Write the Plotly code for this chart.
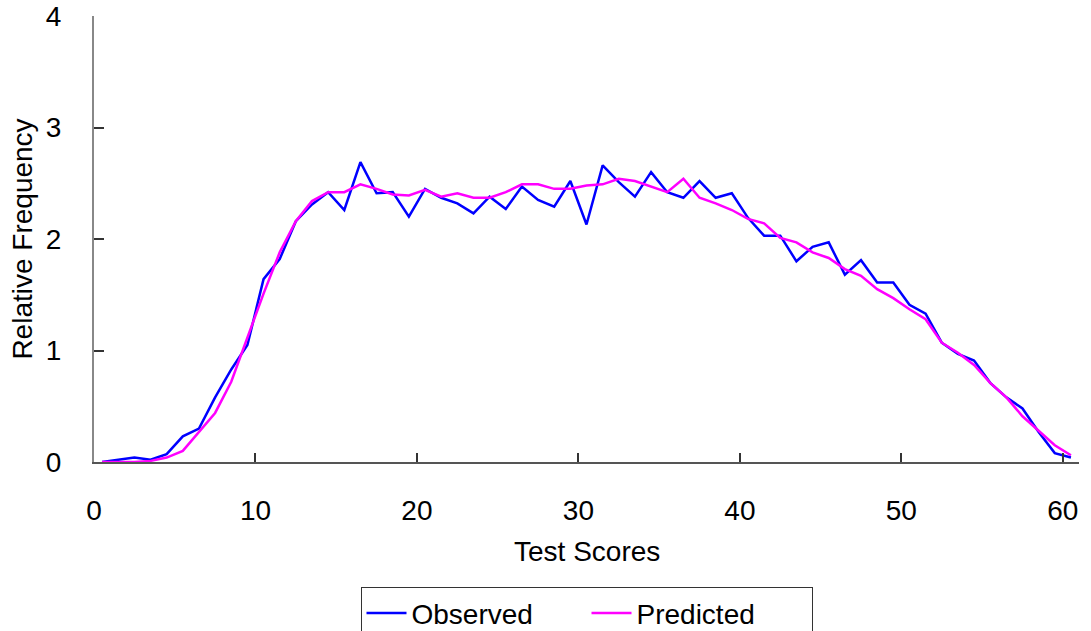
import plotly.graph_objects as go

scores = list(range(61))
observed = [0.00, 0.02, 0.04, 0.02, 0.07, 0.23, 0.30, 0.58, 0.83, 1.05,
            1.64, 1.82, 2.16, 2.31, 2.42, 2.26, 2.69, 2.41, 2.42, 2.20,
            2.45, 2.37, 2.32, 2.23, 2.38, 2.27, 2.47, 2.35, 2.29, 2.52,
            2.13, 2.66, 2.51, 2.38, 2.60, 2.42, 2.37, 2.52, 2.37, 2.41,
            2.19, 2.03, 2.03, 1.80, 1.93, 1.97, 1.68, 1.81, 1.61, 1.61,
            1.41, 1.33, 1.07, 0.97, 0.91, 0.71, 0.58, 0.48, 0.27, 0.08,
            0.04]
predicted = [0.00, 0.00, 0.00, 0.01, 0.04, 0.10, 0.27, 0.44, 0.72, 1.12,
             1.51, 1.88, 2.16, 2.34, 2.42, 2.42, 2.49, 2.45, 2.40, 2.39,
             2.44, 2.38, 2.41, 2.37, 2.37, 2.42, 2.49, 2.49, 2.45, 2.45,
             2.48, 2.49, 2.54, 2.52, 2.47, 2.42, 2.54, 2.37, 2.32, 2.26,
             2.18, 2.14, 2.01, 1.97, 1.88, 1.83, 1.73, 1.67, 1.55, 1.47,
             1.37, 1.28, 1.07, 0.98, 0.87, 0.71, 0.58, 0.41, 0.28, 0.15,
             0.06]
x_ticks = [0, 10, 20, 30, 40, 50, 60]
y_ticks = [0, 1, 2, 3, 4]

# category-style placement: each score sits in the middle of its slot
xpos = [s + 0.5 for s in scores]

FONT = "Arial, Liberation Sans, sans-serif"

fig = go.Figure()
fig.add_trace(go.Scatter(x=xpos, y=observed, mode="lines", name="Observed",
                         line=dict(color="#0000FF", width=2.5)))
fig.add_trace(go.Scatter(x=xpos, y=predicted, mode="lines", name="Predicted",
                         line=dict(color="#FF00FF", width=2.5)))

fig.update_layout(
    width=1091, height=631,
    margin=dict(l=94, r=12, t=16, b=169, autoexpand=False),
    paper_bgcolor="white", plot_bgcolor="white",
    font=dict(family=FONT, size=28, color="black"),
    showlegend=True,
    legend=dict(orientation="h", x=0.5, xanchor="center", y=-0.281, yanchor="top",
                bordercolor="#333333", borderwidth=1, bgcolor="white",
                font=dict(size=28), itemwidth=40, entrywidth=170,
                entrywidthmode="pixels"),
    xaxis=dict(range=[0, 61], tickmode="array", tickvals=x_ticks,
               ticktext=[str(v) for v in x_ticks],
               ticks="inside", ticklen=9, tickwidth=1.5, tickcolor="#333333",
               showline=True, linecolor="#555555", linewidth=2,
               showgrid=False, zeroline=False, ticklabelstandoff=22,
               tickfont=dict(size=28)),
    yaxis=dict(range=[0, 4], tickmode="array", tickvals=y_ticks,
               ticks="inside", ticklen=10, tickwidth=1.5, tickcolor="#333333",
               showline=True, linecolor="#888888", linewidth=2,
               showgrid=False, zeroline=False, ticklabelstandoff=25,
               tickfont=dict(size=28),
               title=dict(text="Relative Frequency", font=dict(size=28), standoff=5)),
    annotations=[dict(text="Test Scores", xref="paper", yref="paper",
                      x=0.5, y=-0.2004, xanchor="center", yanchor="middle",
                      showarrow=False, font=dict(size=28))],
)

fig.write_html("out.html")
